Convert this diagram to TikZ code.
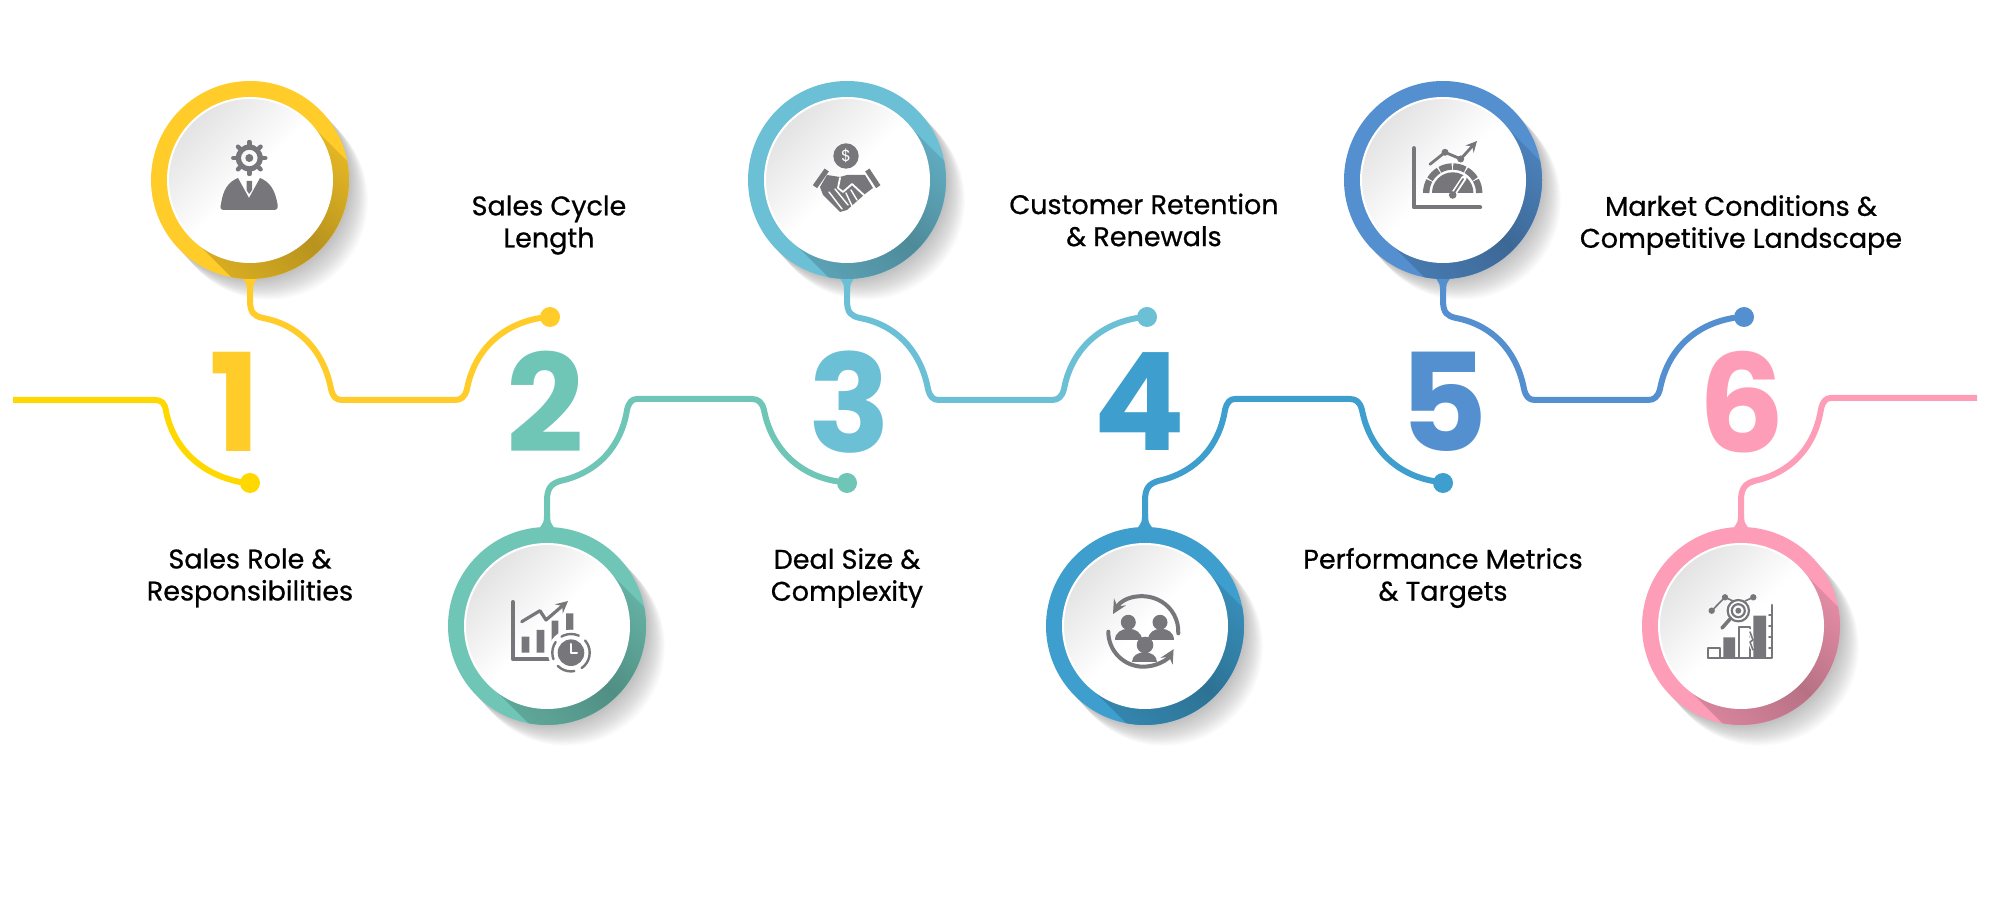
\documentclass[tikz,border=0pt]{standalone}
\usepackage{fontspec}
\setmainfont{Poppins}
\newfontfamily\labelfont{Poppins}[FakeBold=0.7]
\definecolor{yellowL}{HTML}{FFD800}
\definecolor{yellowA}{HTML}{FFCC29}
\definecolor{tealA}{HTML}{70C6B6}
\definecolor{skyA}{HTML}{6CC0D6}
\definecolor{oceanA}{HTML}{3E9ECE}
\definecolor{blueA}{HTML}{5490D0}
\definecolor{pinkA}{HTML}{FE9DB8}
\definecolor{iconGray}{HTML}{77777B}
\tikzset{
	ringbase/.style={circle,inner sep=0pt,minimum size=99pt},
	dotmark/.style={circle,inner sep=0pt,minimum size=10pt},
	linkline/.style={line width=3pt},
	bigdigit/.style={font=\fontsize{68}{68}\selectfont\bfseries,inner sep=0pt},
	steplabel/.style={font=\labelfont\fontsize{13.5}{16}\selectfont,align=center,inner sep=0pt},
	iconfill/.style={fill=iconGray},
	iconline/.style={draw=iconGray,line width=#1},
	iconline/.default=2pt,
	iconcut/.style={draw=white,line width=#1},
	iconcut/.default=1pt
}
\begin{document}
\begin{tikzpicture}[x=0.5pt,y=-0.5pt,line join=round,line cap=round,>=stealth]
	\useasboundingbox (0,0) rectangle (1999,908);
	% soft shadows, they stay under the lines
	\foreach \i/\X/\Y in {1/250/180,2/547/626,3/847/180,4/1145/626,5/1443/180,6/1741/626}{
		\node[ringbase] (c\i) at (\X,\Y) {};
		\foreach \k in {1,...,18}
			\fill[black,opacity=0.014] (\X+1.05*\k,\Y+1.15*\k) circle (99);
	}
	% line ends
	\coordinate (s1) at (13,400);
	\coordinate (e6) at (1977,398);
	\foreach \i/\X/\Y/\col in {1/250/483/yellowL,2/550/317/yellowA,3/847/483/tealA,4/1147/317/skyA,5/1443/483/oceanA,6/1744/317/blueA}
		\node[dotmark,fill=\col] (d\i) at (\X,\Y) {};
	% lines below the upper rings
	\foreach \i/\j/\X/\col in {1/2/250/yellowA,3/4/847/skyA,5/6/1443/blueA}{
		\fill[\col] (\X-9,276) .. controls (\X-3,284) .. (\X-3,292) -- (\X+3,292) .. controls (\X+3,284) .. (\X+9,276) -- cycle;
		\draw[linkline,draw=\col] (c\i.south) -- (\X,300) .. controls (\X,313) and (\X+4,316) .. (\X+13,318)
			.. controls (\X+50,325) and (\X+74,352) .. (\X+81,389) .. controls (\X+83,397) and (\X+86,400) .. (\X+92,400)
			-- (\X+205,400) .. controls (\X+211,400) and (\X+215,397) .. (\X+217,389)
			.. controls (\X+224,352) and (\X+250,325) .. (\X+290,318) -- (d\j);
	}
	% lines above the lower rings
	\foreach \i/\j/\X/\col in {2/3/547/tealA,4/5/1145/oceanA}{
		\fill[\col] (\X-9,530) .. controls (\X-3,522) .. (\X-3,514) -- (\X+3,514) .. controls (\X+3,522) .. (\X+9,530) -- cycle;
		\draw[linkline,draw=\col] (c\i.north) -- (\X,501) .. controls (\X,488) and (\X+4,484) .. (\X+13,481)
			.. controls (\X+50,473) and (\X+74,447) .. (\X+80,410) .. controls (\X+82,402) and (\X+85,399) .. (\X+90,399)
			-- (\X+205,399) .. controls (\X+211,399) and (\X+215,402) .. (\X+217,410)
			.. controls (\X+224,447) and (\X+250,474) .. (\X+288,481) -- (d\j);
	}
	\draw[linkline,draw=yellowL,line cap=butt] (s1) -- (155,400) .. controls (161,400) and (165,403) .. (166,411)
		.. controls (173,447) and (200,474) .. (240,482) -- (d1);
	\fill[pinkA] (1732,530) .. controls (1738,522) .. (1738,514) -- (1744,514) .. controls (1744,522) .. (1750,530) -- cycle;
	\draw[linkline,draw=pinkA,line cap=butt] (c6.north) -- (1741,501) .. controls (1741,488) and (1745,484) .. (1754,481)
		.. controls (1791,473) and (1815,447) .. (1821,409) .. controls (1823,401) and (1826,398) .. (1831,398) -- (e6);
	% rings with the dark side and the discs
	\foreach \i/\X/\Y/\col in {1/250/180/yellowA,2/547/626/tealA,3/847/180/skyA,4/1145/626/oceanA,5/1443/180/blueA,6/1741/626/pinkA}{
		\fill[\col] (c\i) circle (99);
		\begin{scope}
			\clip (c\i) circle (99);
			\shade[top color=\col!94!black,bottom color=\col!88!black,middle color=\col!72!black,shading angle=-45]
				(\X+58,\Y-58) -- (\X+158,\Y+42) -- (\X+42,\Y+158) -- (\X-58,\Y+58) -- cycle;
		\end{scope}
		\shade[top color=black!11,bottom color=white,middle color=white,shading angle=45] (c\i) circle (82);
		\draw[white,line width=1pt] (c\i) circle (82);
	}
	% numbers
	\node[bigdigit,text=yellowA] (n1) at (235,402) {1};
	\node[bigdigit,text=tealA] (n2) at (545,402) {2};
	\node[bigdigit,text=skyA] (n3) at (850,402) {3};
	\node[bigdigit,text=oceanA] (n4) at (1140,402) {4};
	\node[bigdigit,text=blueA] (n5) at (1444,402) {5};
	\node[bigdigit,text=pinkA] (n6) at (1742,402) {6};
	% labels
	\node[steplabel] (t1) at (250,578) {Sales Role \&\\Responsibilities};
	\node[steplabel] (t2) at (549,225) {Sales Cycle\\Length};
	\node[steplabel] (t3) at (847,578) {Deal Size \&\\Complexity};
	\node[steplabel] (t4) at (1144,220) {Customer Retention\\\& Renewals};
	\node[steplabel] (t5) at (1443,578) {Performance Metrics\\\& Targets};
	\node[steplabel] (t6) at (1741,225) {Market Conditions \&\\Competitive Landscape};
	% person with gear
	\fill[iconfill,even odd rule] (249.3,158) circle (13.5) (249.3,158) circle (8.3);
	\fill[iconfill] (249.3,158) circle (4);
	\foreach \a in {0,45,...,315}
		\draw[iconline=2.2pt] (249.3,158) ++(\a:12) -- ++(\a:4);
	\fill[iconfill] (224,210) .. controls (220,210) and (220,207) .. (221,204) .. controls (223,190) and (228,182) .. (238,178)
		-- (249,198) -- (260,178) .. controls (270,182) and (275,190) .. (277.5,204) .. controls (278,207) and (278,210) .. (274,210) -- cycle;
	\fill[iconfill] (246.5,181) -- (252,181) -- (252,190) -- (249.2,194) -- (246.5,190) -- cycle;
	% chart with clock
	\draw[iconline=2pt] (512.7,602) -- (512.7,659) -- (550,659);
	\fill[iconfill] (521.7,636.7) rectangle (529.3,652.7) (536.7,630) rectangle (544.3,652.7)
		(551.7,620.7) rectangle (558.3,645) (566,613.3) rectangle (573.3,640);
	\draw[iconline=1.6pt,->] (521.7,621.7) -- (540,610.7) -- (546,620) -- (568,601);
	\fill[white] (571,652.7) circle (23);
	\fill[iconfill] (571,652.7) circle (13.3);
	\draw[iconline=1.2pt,dash pattern=on 9pt off 4pt] (571,652.7) circle (18.7);
	\draw[iconcut=1pt] (571,644) -- (571,652.7) -- (577,652.7);
	% handshake with coin
	\fill[iconfill] (846,156) circle (12.7);
	\node[text=white,font=\footnotesize,inner sep=0pt] (coin) at (846,156) {\$};
	\draw[iconline=2.6pt,line cap=butt] (815,186.7) -- (826.7,170) (878.3,186.7) -- (867.3,170);
	\fill[iconfill] (827,175) -- (840,177) -- (847,175) -- (865,175) -- (873,188) -- (865,194) -- (847,210) -- (840,212) -- (823,195) -- (820,187) -- cycle;
	\draw[iconcut=0.9pt] (840,178) -- (838,188) -- (843,192) -- (852,184) -- (866,197);
	\draw[iconcut=0.7pt] (829,192) -- (842,209) (835,189) -- (848,205) (851,190) -- (857,200) (846,193) -- (852,206);
	% people in a cycle
	\draw[iconline=2pt,<-] (1113,614) arc (210:363:35);
	\draw[iconline=2pt,->] (1108.3,631.7) arc (180:30:35);
	\fill[iconfill] (1128.3,622.3) circle (7.5) (1160,622.3) circle (7.5) (1145,645) circle (8.3);
	\fill[iconfill] (1115,640) .. controls (1115,625) and (1141.7,625) .. (1141.7,640) -- cycle;
	\fill[iconfill] (1147.5,640) .. controls (1147.5,625) and (1174,625) .. (1174,640) -- cycle;
	\fill[iconfill] (1131.7,662) .. controls (1131.7,649) and (1156.7,649) .. (1156.7,662) -- cycle;
	% gauge on a chart
	\draw[iconline=2.2pt] (1414,148.3) -- (1414,207.3) -- (1480,207.3);
	\draw[iconline=1.4pt,->] (1430,164.3) -- (1445,152.3) -- (1460.7,159) -- (1477,141);
	\fill[iconfill] (1445,152.3) circle (3.5) (1460.7,159) circle (3.5);
	\foreach \a/\b in {180/208,211/238,241/268,271/298,301/328,331/360}
		\draw[iconline=3.2pt,line cap=butt] (1452.7,193)++(\a:26.5) arc (\a:\b:26.5);
	\fill[iconfill] (1432,193) arc (180:360:20.7) -- cycle;
	\draw[iconcut=2.6pt] (1452.7,195) -- (1464,178);
	\draw[iconline=0.9pt] (1452.7,195) -- (1463,179);
	\fill[iconfill] (1452.7,195) circle (3.8);
	% bars with magnifier
	\fill[iconfill] (1723.3,637.3) rectangle (1735,658.3) (1753.3,615.7) rectangle (1766,658.3);
	\draw[iconline=1.1pt] (1708.3,648.3) rectangle (1720,658.3) (1739,626.7) rectangle (1750,658.3);
	\draw[iconline=1.1pt] (1708.3,658.3) -- (1771.7,658.3) -- (1771.7,605);
	\foreach \y in {615,626,637,648}
		\draw[iconline=0.8pt] (1769,\y) -- (1771.7,\y);
	\draw[iconcut=1.8pt] (1749,630) -- (1752,638) -- (1749,640) -- (1752,648);
	\draw[iconline=0.8pt] (1750,632) -- (1753,640) -- (1750,642) -- (1753,650);
	\fill[white] (1738.3,610.7) circle (13);
	\draw[iconline=1.1pt] (1738.3,610.7) circle (10.7) (1738.3,610.7) circle (6.5);
	\fill[iconfill] (1738.3,610.7) circle (3);
	\draw[iconline=1.8pt] (1730.7,618.3) -- (1722,628);
	\draw[iconline=0.8pt] (1711.7,610.7) -- (1725,597.3) -- (1733,601) (1745,601) -- (1753.3,597.3);
	\fill[iconfill] (1711.7,610.7) circle (3.2) (1725,597.3) circle (3.2) (1753.3,597.3) circle (3.2);
\end{tikzpicture}
\end{document}
